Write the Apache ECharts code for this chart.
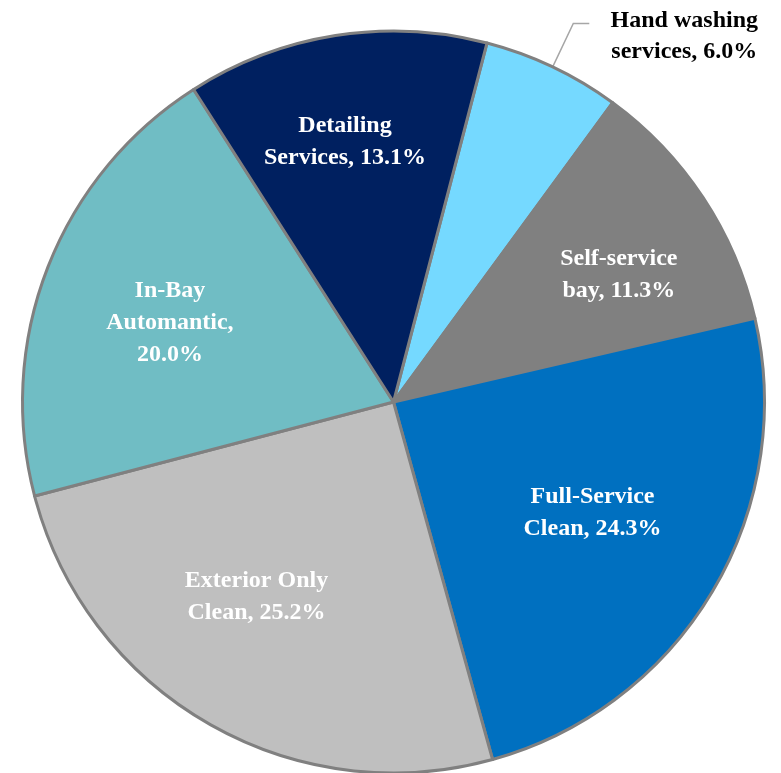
<!DOCTYPE html>
<html>
<head>
<meta charset="utf-8">
<script src="https://cdn.jsdelivr.net/npm/echarts@6/dist/echarts.min.js"></script>
<style>html,body{margin:0;padding:0;background:#fff}#c{width:781px;height:773px}</style>
</head>
<body>
<div id="c"></div>
<script>
const categories = ['Hand washing\nservices', 'Self-service\nbay', 'Full-Service\nClean', 'Exterior Only\nClean', 'In-Bay\nAutomantic', 'Detailing\nServices'];
const values = [6.0, 11.3, 24.3, 25.2, 20.0, 13.1];
const separators = [', ', ', ', ', ', ', ', ',\n', ', '];
const colors = ['#75D9FF', '#808080', '#0070C0', '#BFBFBF', '#70BDC4', '#002060'];
const labelOffsets = [[0, 0], [68, -23], [37, 14], [-43, 31], [-48, -11], [-19, -74]];

const FONT = 'Liberation Serif';
const data = values.map((v, i) => {
  const item = {
    value: v,
    name: categories[i],
    itemStyle: { color: colors[i] }
  };
  if (i === 0) {
    item.label = {
      show: true,
      position: 'outside',
      color: '#000',
      formatter: (p) => p.name.split('\n').map((s, k, arr) => '{c|' + s + (k === arr.length - 1 ? separators[p.dataIndex] + p.value.toFixed(1) + '%' : '') + '}').join('\n'),
      padding: [26, 0, 0, 0],
      rich: { c: { width: 180, align: 'center', fontFamily: FONT, fontWeight: 'bold', fontSize: 24, lineHeight: 31, color: '#000' } }
    };
    item.labelLine = { show: true, length: 48, length2: 16, lineStyle: { color: '#A6A6A6', width: 1.5 } };
  } else {
    item.label = {
      show: true,
      position: 'inside',
      offset: labelOffsets[i],
      color: '#fff',
      formatter: (p) => p.name + separators[p.dataIndex] + p.value.toFixed(1) + '%'
    };
  }
  return item;
});

const chart = echarts.init(document.getElementById('c'));
chart.setOption({
  animation: false,
  series: [{
    type: 'pie',
    center: [393.5, 402],
    radius: 371,
    startAngle: 75.4,
    clockwise: true,
    avoidLabelOverlap: false,
    emphasis: { disabled: true },
    itemStyle: { borderColor: '#808080', borderWidth: 3 },
    label: {
      fontFamily: FONT,
      fontWeight: 'bold',
      fontSize: 24,
      lineHeight: 32,
      align: 'center'
    },
    data: data
  }]
});
</script>
</body>
</html>
